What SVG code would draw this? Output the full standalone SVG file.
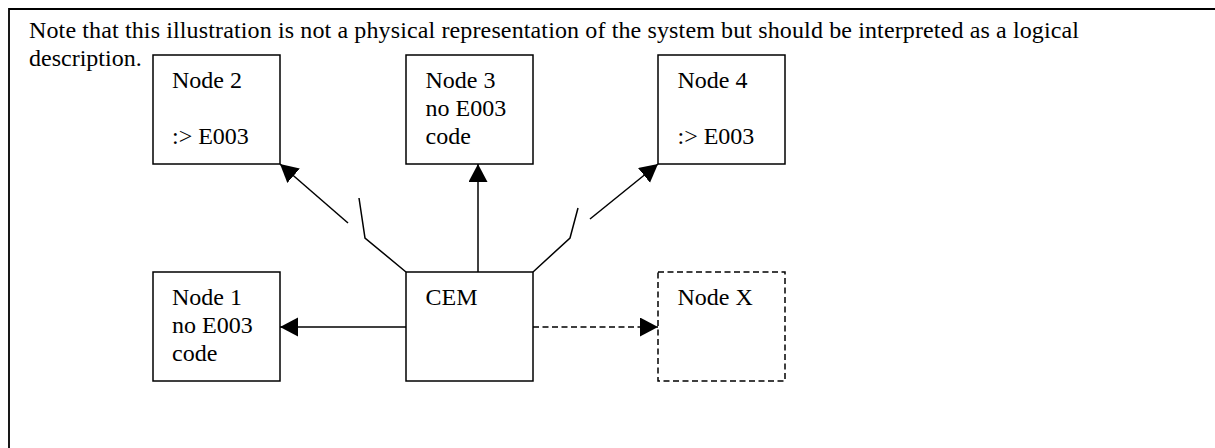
<svg xmlns="http://www.w3.org/2000/svg" width="1215" height="448" viewBox="0 0 1215 448">
<style>
text{font-family:"Liberation Serif","Times New Roman",serif;font-size:24px;fill:#000}
.box{fill:#fff;stroke:#000;stroke-width:1.5}
.dbox{fill:#fff;stroke:#000;stroke-width:1.5;stroke-dasharray:6 3.5}
.ln{fill:none;stroke:#000;stroke-width:1.5}
.dln{fill:none;stroke:#000;stroke-width:1.5;stroke-dasharray:6 3.5}
</style>
<defs>
<marker id="ah" markerUnits="userSpaceOnUse" markerWidth="19" markerHeight="20" refX="18" refY="9.5" orient="auto" viewBox="0 0 19 20">
<path d="M0,0 L18,9.5 L0,19 z" fill="#000"/>
</marker>
</defs>
<rect width="1215" height="448" fill="#fff"/>
<path d="M9,450 V9 H1217" fill="none" stroke="#000" stroke-width="1.8"/>
<g id="note">
<text x="29" y="38" textLength="1050" lengthAdjust="spacing">Note that this illustration is not a physical representation of the system but should be interpreted as a logical</text>
<text x="29" y="66">description.</text>
</g>
<g id="connectors">
<line class="ln" x1="406" y1="327" x2="280" y2="327" marker-end="url(#ah)"/>
<line class="dln" x1="533" y1="327" x2="658" y2="327" marker-end="url(#ah)"/>
<line class="ln" x1="478" y1="272" x2="478" y2="164" marker-end="url(#ah)"/>
<polyline class="ln" points="406,272 365,238 359,198"/>
<line class="ln" x1="348" y1="223" x2="280" y2="164" marker-end="url(#ah)"/>
<polyline class="ln" points="533,272 570,238 578,208"/>
<line class="ln" x1="590" y1="219" x2="658" y2="164" marker-end="url(#ah)"/>
</g>
<g id="node2">
<rect class="box" x="153" y="55" width="127" height="109"/>
<text x="172" y="88">Node 2</text>
<text x="172" y="144">:&gt; E003</text>
</g>
<g id="node3">
<rect class="box" x="406" y="55" width="127" height="109"/>
<text x="425.5" y="88">Node 3</text>
<text x="425.5" y="116">no E003</text>
<text x="425.5" y="144">code</text>
</g>
<g id="node4">
<rect class="box" x="658" y="55" width="127" height="109"/>
<text x="677.5" y="88">Node 4</text>
<text x="677.5" y="144">:&gt; E003</text>
</g>
<g id="node1">
<rect class="box" x="153" y="272" width="127" height="109"/>
<text x="172" y="305">Node 1</text>
<text x="172" y="333">no E003</text>
<text x="172" y="361">code</text>
</g>
<g id="cem">
<rect class="box" x="406" y="272" width="127" height="109"/>
<text x="425.5" y="305">CEM</text>
</g>
<g id="nodeX">
<rect class="dbox" x="658" y="272" width="127" height="109"/>
<text x="677.5" y="305">Node X</text>
</g>
</svg>
